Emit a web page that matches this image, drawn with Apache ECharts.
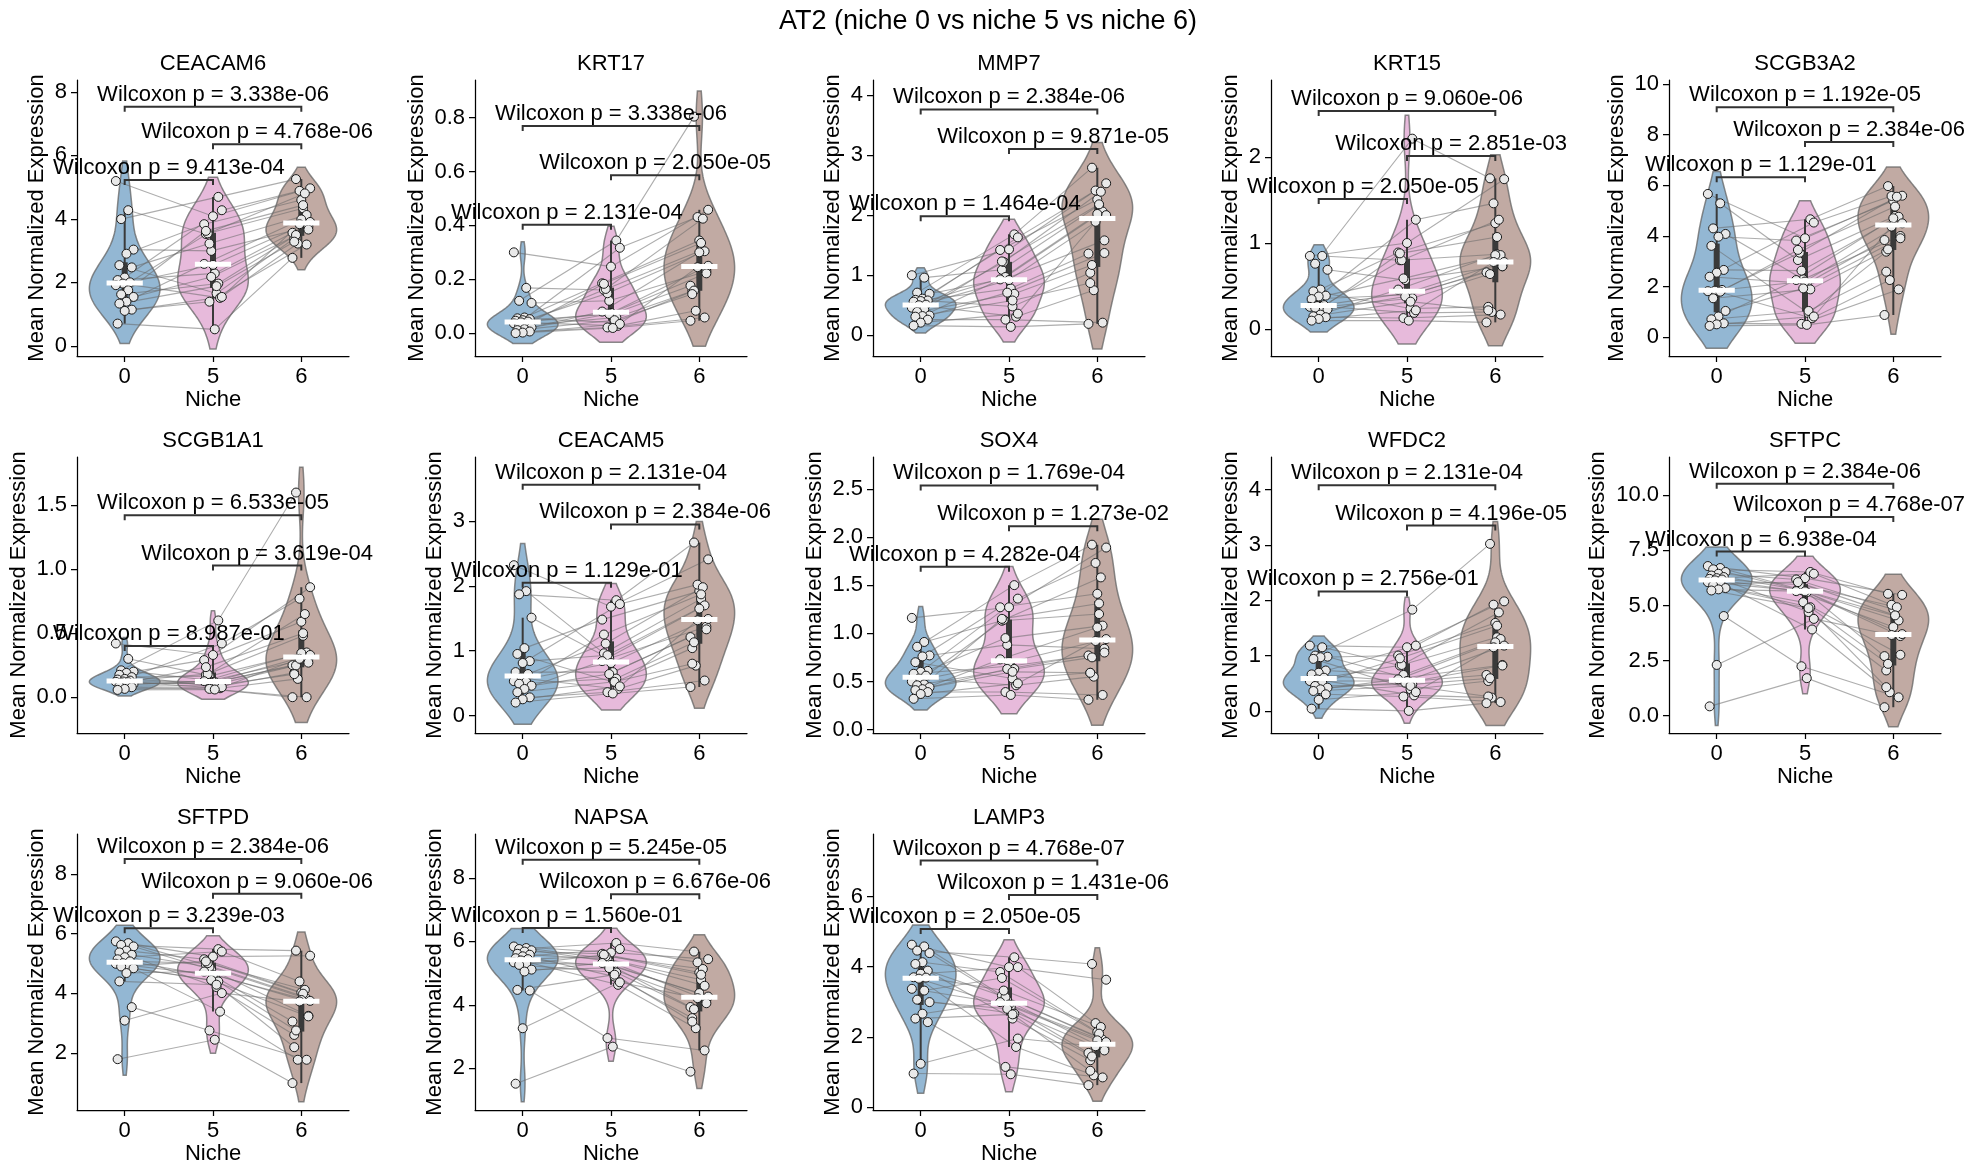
<!DOCTYPE html>
<html>
<head>
<meta charset="utf-8">
<script src="https://cdn.jsdelivr.net/npm/echarts@6/dist/echarts.min.js"></script>
<style>
  html, body { margin: 0; padding: 0; background: #fff; }
  #main { width: 1976px; height: 1175px; }
</style>
</head>
<body>
<div id="main"></div>
<script>
var FONT = '"Liberation Sans", Arial, sans-serif';

// niches on the x axis, genes = one panel each
var niches = ["0", "5", "6"];
var genes = ["CEACAM6", "KRT17", "MMP7", "KRT15", "SCGB3A2", "SCGB1A1", "CEACAM5",
             "SOX4", "WFDC2", "SFTPC", "SFTPD", "NAPSA", "LAMP3"];

// mean normalized expression per sample, [niche 0, niche 5, niche 6], each sorted high -> low
var CEACAM6 = [
  [5.19, 4.27, 3.99, 3.03, 2.9, 2.54, 2.47, 2.15, 2.07, 2.0, 1.96, 1.91, 1.75, 1.62, 1.54, 1.39, 1.33, 1.14, 1.1, 0.7],
  [4.69, 4.27, 4.08, 3.83, 3.62, 3.54, 3.52, 3.22, 2.99, 2.58, 2.55, 2.28, 2.17, 1.96, 1.88, 1.65, 1.54, 1.51, 1.39, 0.52],
  [5.25, 4.96, 4.88, 4.8, 4.59, 4.43, 4.33, 4.12, 3.98, 3.9, 3.83, 3.75, 3.66, 3.56, 3.49, 3.38, 3.28, 3.22, 3.19, 2.77]];
var KRT17 = [
  [0.30, 0.168, 0.12, 0.112, 0.058, 0.055, 0.052, 0.048, 0.046, 0.043, 0.04, 0.036, 0.031, 0.027, 0.021, 0.015, 0.011, 0.006, 0.002, 0.0],
  [0.344, 0.317, 0.247, 0.185, 0.183, 0.164, 0.16, 0.148, 0.12, 0.08, 0.075, 0.071, 0.071, 0.058, 0.048, 0.04, 0.034, 0.027, 0.021, 0.019],
  [0.804, 0.458, 0.431, 0.425, 0.344, 0.335, 0.307, 0.304, 0.30, 0.25, 0.245, 0.23, 0.222, 0.176, 0.158, 0.155, 0.145, 0.083, 0.058, 0.046]];
var MMP7 = [
  [1.0, 0.96, 0.71, 0.69, 0.61, 0.59, 0.58, 0.57, 0.56, 0.51, 0.5, 0.46, 0.43, 0.39, 0.33, 0.32, 0.31, 0.26, 0.21, 0.16],
  [1.68, 1.63, 1.43, 1.42, 1.23, 1.22, 1.09, 0.97, 0.95, 0.93, 0.92, 0.78, 0.71, 0.69, 0.58, 0.48, 0.36, 0.31, 0.26, 0.14],
  [2.79, 2.53, 2.41, 2.39, 2.26, 2.18, 2.17, 2.06, 2.02, 2.0, 1.89, 1.58, 1.37, 1.36, 1.17, 1.04, 0.87, 0.75, 0.21, 0.19]];
var KRT15 = [
  [0.85, 0.85, 0.76, 0.69, 0.46, 0.44, 0.39, 0.38, 0.35, 0.28, 0.27, 0.26, 0.25, 0.25, 0.23, 0.17, 0.15, 0.14, 0.12, 0.10],
  [2.21, 1.27, 1.0, 0.89, 0.88, 0.80, 0.80, 0.59, 0.57, 0.46, 0.42, 0.40, 0.38, 0.36, 0.32, 0.24, 0.22, 0.19, 0.13, 0.10],
  [1.75, 1.74, 1.46, 1.27, 1.23, 1.07, 0.87, 0.86, 0.86, 0.78, 0.78, 0.73, 0.73, 0.66, 0.64, 0.26, 0.22, 0.20, 0.17, 0.08]];
var SCGB3A2 = [
  [5.66, 5.29, 4.3, 4.08, 3.97, 3.61, 2.66, 2.55, 2.39, 1.87, 1.84, 1.82, 1.8, 1.54, 1.04, 0.82, 0.71, 0.55, 0.51, 0.45],
  [4.66, 4.53, 3.91, 3.82, 3.45, 3.34, 3.05, 2.63, 2.29, 2.26, 2.2, 2.13, 1.93, 1.89, 1.04, 0.95, 0.82, 0.75, 0.53, 0.49],
  [5.97, 5.59, 5.58, 5.55, 5.39, 5.16, 4.79, 4.76, 4.70, 4.5, 4.37, 4.0, 3.91, 3.84, 3.47, 3.38, 2.59, 2.26, 1.89, 0.88]];
var SCGB1A1 = [
  [0.42, 0.30, 0.21, 0.20, 0.19, 0.175, 0.157, 0.143, 0.138, 0.13, 0.123, 0.12, 0.117, 0.112, 0.104, 0.097, 0.086, 0.078, 0.065, 0.057],
  [0.60, 0.42, 0.33, 0.29, 0.235, 0.18, 0.175, 0.165, 0.13, 0.125, 0.12, 0.117, 0.112, 0.104, 0.091, 0.08, 0.078, 0.07, 0.065, 0.06],
  [1.60, 0.86, 0.77, 0.65, 0.59, 0.50, 0.48, 0.35, 0.345, 0.33, 0.30, 0.30, 0.27, 0.25, 0.248, 0.19, 0.18, 0.143, 0.0, 0.0]];
var CEACAM5 = [
  [2.32, 1.92, 1.87, 1.51, 1.04, 0.95, 0.84, 0.81, 0.67, 0.64, 0.58, 0.53, 0.52, 0.49, 0.46, 0.41, 0.36, 0.28, 0.25, 0.2],
  [1.78, 1.72, 1.68, 1.48, 1.25, 1.11, 0.96, 0.93, 0.88, 0.84, 0.81, 0.67, 0.64, 0.57, 0.52, 0.51, 0.45, 0.41, 0.36, 0.34],
  [2.67, 2.41, 2.02, 1.98, 1.92, 1.87, 1.8, 1.70, 1.65, 1.49, 1.47, 1.37, 1.33, 1.21, 1.13, 1.04, 0.80, 0.77, 0.54, 0.44]];
var SOX4 = [
  [1.16, 0.91, 0.86, 0.77, 0.76, 0.70, 0.61, 0.60, 0.58, 0.56, 0.53, 0.5, 0.47, 0.46, 0.44, 0.42, 0.41, 0.39, 0.37, 0.32],
  [1.5, 1.36, 1.27, 1.27, 1.15, 1.14, 1.13, 0.95, 0.88, 0.73, 0.70, 0.66, 0.63, 0.63, 0.6, 0.53, 0.48, 0.46, 0.39, 0.36],
  [1.92, 1.89, 1.73, 1.58, 1.41, 1.31, 1.2, 1.08, 1.06, 0.94, 0.92, 0.84, 0.80, 0.77, 0.75, 0.59, 0.59, 0.55, 0.36, 0.31]];
var WFDC2 = [
  [1.18, 1.15, 1.0, 0.98, 0.97, 0.94, 0.73, 0.69, 0.66, 0.6, 0.57, 0.54, 0.51, 0.45, 0.42, 0.39, 0.36, 0.30, 0.2, 0.04],
  [1.83, 1.18, 1.15, 1.0, 0.95, 0.83, 0.82, 0.65, 0.6, 0.57, 0.54, 0.53, 0.51, 0.48, 0.45, 0.39, 0.34, 0.28, 0.26, 0.0],
  [3.02, 1.98, 1.92, 1.78, 1.59, 1.54, 1.33, 1.3, 1.24, 1.18, 1.15, 0.83, 0.82, 0.65, 0.59, 0.54, 0.26, 0.24, 0.16, 0.14]];
var SFTPC = [
  [6.79, 6.7, 6.64, 6.52, 6.44, 6.36, 6.29, 6.24, 6.21, 6.18, 6.14, 6.06, 5.98, 5.91, 5.79, 5.73, 5.68, 4.52, 2.30, 0.42],
  [6.52, 6.44, 6.24, 6.18, 6.06, 5.94, 5.76, 5.7, 5.67, 5.65, 5.64, 5.6, 5.15, 4.92, 4.88, 4.70, 4.39, 3.91, 2.24, 1.70],
  [5.53, 5.48, 5.03, 4.92, 4.82, 4.55, 4.52, 4.32, 4.02, 3.7, 3.66, 3.61, 2.76, 2.70, 2.35, 2.05, 1.29, 1.06, 0.83, 0.38]];
var SFTPD = [
  [5.74, 5.68, 5.62, 5.57, 5.43, 5.37, 5.29, 5.21, 5.14, 5.07, 5.01, 4.99, 4.92, 4.9, 4.84, 4.68, 4.40, 3.54, 3.09, 1.80],
  [5.48, 5.40, 5.23, 5.14, 5.07, 5.01, 4.96, 4.88, 4.79, 4.73, 4.62, 4.56, 4.45, 4.40, 4.29, 4.21, 4.01, 3.39, 2.76, 2.45],
  [5.43, 5.26, 4.40, 4.12, 4.03, 3.99, 3.9, 3.82, 3.78, 3.75, 3.73, 3.25, 3.23, 3.06, 2.76, 2.61, 2.20, 1.78, 1.78, 1.0]];
var NAPSA = [
  [5.84, 5.79, 5.76, 5.72, 5.68, 5.61, 5.58, 5.53, 5.47, 5.44, 5.4, 5.34, 5.29, 5.26, 5.11, 5.05, 4.47, 4.45, 3.26, 1.51],
  [5.95, 5.76, 5.65, 5.61, 5.58, 5.53, 5.47, 5.44, 5.37, 5.32, 5.26, 5.21, 5.16, 5.02, 4.95, 4.89, 4.71, 4.63, 2.95, 2.68],
  [5.68, 5.44, 5.34, 5.13, 5.02, 4.95, 4.79, 4.6, 4.37, 4.26, 4.21, 4.16, 4.05, 3.93, 3.86, 3.58, 3.47, 3.26, 2.56, 1.89]];
var LAMP3 = [
  [4.63, 4.58, 4.46, 4.39, 4.13, 4.08, 3.89, 3.8, 3.70, 3.69, 3.66, 3.37, 3.32, 3.06, 2.99, 2.66, 2.52, 2.42, 1.23, 0.95],
  [4.27, 3.99, 3.99, 3.85, 3.68, 3.32, 3.18, 3.13, 3.04, 2.99, 2.92, 2.85, 2.8, 2.66, 2.64, 2.52, 1.95, 1.71, 1.14, 0.93],
  [4.08, 3.63, 2.39, 2.28, 2.14, 2.09, 1.99, 1.92, 1.9, 1.85, 1.73, 1.66, 1.61, 1.54, 1.44, 1.33, 1.03, 0.9, 0.84, 0.62]];
var geneData = [CEACAM6, KRT17, MMP7, KRT15, SCGB3A2, SCGB1A1, CEACAM5, SOX4, WFDC2, SFTPC, SFTPD, NAPSA, LAMP3];

// which niche-5 / niche-6 entry belongs to the same sample as niche-0 entry i
var pair5 = [2, 6, 0, 8, 3, 15, 7, 1, 11, 5, 17, 10, 4, 13, 12, 9, 14, 18, 16, 19];
var pair6 = [1, 6, 0, 11, 4, 15, 7, 2, 13, 3, 17, 9, 5, 14, 12, 8, 16, 18, 10, 19];

// Wilcoxon tests: [0 vs 5, 5 vs 6, 0 vs 6]
var comparisons = [[0, 1], [1, 2], [0, 2]];
var pvals = [
  ["9.413e-04", "4.768e-06", "3.338e-06"], ["2.131e-04", "2.050e-05", "3.338e-06"],
  ["1.464e-04", "9.871e-05", "2.384e-06"], ["2.050e-05", "2.851e-03", "9.060e-06"],
  ["1.129e-01", "2.384e-06", "1.192e-05"], ["8.987e-01", "3.619e-04", "6.533e-05"],
  ["1.129e-01", "2.384e-06", "2.131e-04"], ["4.282e-04", "1.273e-02", "1.769e-04"],
  ["2.756e-01", "4.196e-05", "2.131e-04"], ["6.938e-04", "4.768e-07", "2.384e-06"],
  ["3.239e-03", "9.060e-06", "2.384e-06"], ["1.560e-01", "6.676e-06", "5.245e-05"],
  ["2.050e-05", "1.431e-06", "4.768e-07"]];
var bracketY = [
  [5.22, 6.35, 7.53], [0.402, 0.586, 0.769], [1.98, 3.1, 3.76], [1.51, 2.01, 2.53],
  [6.32, 7.71, 9.08], [0.40, 1.03, 1.422], [2.05, 2.95, 3.56], [1.69, 2.11, 2.535],
  [2.16, 3.35, 4.08], [7.45, 9.02, 10.53], [6.18, 7.33, 8.49], [6.42, 7.49, 8.58],
  [5.08, 6.05, 7.03]];

// y axes
var yTicks = [
  [0, 2, 4, 6, 8], [0, 0.2, 0.4, 0.6, 0.8], [0, 1, 2, 3, 4], [0, 1, 2], [0, 2, 4, 6, 8, 10],
  [0, 0.5, 1.0, 1.5], [0, 1, 2, 3], [0, 0.5, 1.0, 1.5, 2.0, 2.5], [0, 1, 2, 3, 4],
  [0, 2.5, 5.0, 7.5, 10.0], [2, 4, 6, 8], [2, 4, 6, 8], [0, 2, 4, 6]];
var yRange = [
  [-0.32, 8.37], [-0.085, 0.94], [-0.345, 4.25], [-0.31, 2.89], [-0.74, 10.16],
  [-0.28, 1.878], [-0.27, 3.99], [-0.035, 2.83], [-0.40, 4.59], [-0.79, 11.74],
  [0.10, 9.33], [0.68, 9.39], [-0.09, 7.79]];

var violinFill = ["#93b7d3", "#e7badb", "#c1aaa3"];
var rowTop = [80, 457, 834];

function jit(i, k) { return (((i * 7 + k * 5) % 11) - 5) * 0.02; }

function sampleValue(set, k, i) {
  if (k === 1) return set[1][pair5[i]];
  if (k === 2) return set[2][pair6[i]];
  return set[0][i];
}

function quantile(sorted, q) {
  var pos = (sorted.length - 1) * q, lo = Math.floor(pos), hi = Math.ceil(pos);
  return sorted[lo] + (sorted[hi] - sorted[lo]) * (pos - lo);
}

// gaussian kde (scott bandwidth, cut = 1), scaled so each violin is 0.8 wide
function violinShape(vals) {
  var n = vals.length;
  var mean = vals.reduce(function (a, b) { return a + b; }, 0) / n;
  var sd = Math.sqrt(vals.reduce(function (a, b) { return a + (b - mean) * (b - mean); }, 0) / (n - 1));
  var bw = sd * Math.pow(n, -0.2);
  var lo = Math.min.apply(null, vals) - bw, hi = Math.max.apply(null, vals) + bw;
  var pts = [], mx = 0;
  for (var g = 0; g <= 120; g++) {
    var y = lo + (hi - lo) * g / 120, d = 0;
    vals.forEach(function (v) { var z = (y - v) / bw; d += Math.exp(-0.5 * z * z); });
    pts.push([y, d]);
    mx = Math.max(mx, d);
  }
  return pts.map(function (p) { return [p[0], p[1] / mx * 0.4]; });
}

function boxStats(vals) {
  var s = vals.slice().sort(function (a, b) { return a - b; });
  var q1 = quantile(s, 0.25), q2 = quantile(s, 0.5), q3 = quantile(s, 0.75), iqr = q3 - q1;
  var inside = s.filter(function (v) { return v >= q1 - 1.5 * iqr && v <= q3 + 1.5 * iqr; });
  return { q1: q1, q2: q2, q3: q3, lo: inside[0], hi: inside[inside.length - 1] };
}

function textWidth(str) {
  var w = 0;
  for (var i = 0; i < str.length; i++) w += str[i] === "." ? 6.1 : 12.2;
  return w;
}

var grids = [], xAxes = [], yAxes = [], series = [], graphics = [];

graphics.push({
  type: "text", x: 988, y: 22,
  style: { text: "AT2 (niche 0 vs niche 5 vs niche 6)", font: "27px " + FONT, fill: "#000",
           textAlign: "center", textVerticalAlign: "middle", align: "center", verticalAlign: "middle" }
});

genes.forEach(function (gene, p) {
  var r = Math.floor(p / 5), c = p % 5;
  var left = 77 + 398 * c, top = rowTop[r];
  var set = geneData[p];
  var n = set[0].length;
  var dec = yTicks[p].some(function (t) { return t % 1 !== 0; }) ? 1 : 0;
  var widest = Math.max.apply(null, yTicks[p].map(function (t) { return textWidth(t.toFixed(dec)); }));

  grids.push({ left: left, top: top, width: 272, height: 276 });

  graphics.push({
    type: "text", x: left + 136, y: top - 16,
    style: { text: gene, font: "22px " + FONT, fill: "#000",
             textAlign: "center", textVerticalAlign: "middle", align: "center", verticalAlign: "middle" }
  });

  xAxes.push({
    gridIndex: p, type: "value", min: -0.54, max: 2.54,
    axisLine: { show: true, onZero: false, lineStyle: { color: "#000", width: 1.25 } },
    axisTick: { show: true, length: 6, customValues: [0, 1, 2], lineStyle: { color: "#000", width: 1.25 } },
    axisLabel: { customValues: [0, 1, 2], margin: 10, color: "#000", fontSize: 22, fontFamily: FONT,
                 formatter: function (v) { return niches[Math.round(v)]; } },
    splitLine: { show: false },
    name: "Niche", nameLocation: "middle", nameGap: 33,
    nameTextStyle: { color: "#000", fontSize: 22, fontFamily: FONT }
  });

  yAxes.push({
    gridIndex: p, type: "value", min: yRange[p][0], max: yRange[p][1],
    axisLine: { show: true, onZero: false, lineStyle: { color: "#000", width: 1.25 } },
    axisTick: { show: true, length: 6, customValues: yTicks[p], lineStyle: { color: "#000", width: 1.25 } },
    axisLabel: { customValues: yTicks[p], margin: 10, color: "#000", fontSize: 22, fontFamily: FONT,
                 formatter: function (v) { return v.toFixed(dec); } },
    splitLine: { show: false },
    name: "Mean Normalized Expression", nameLocation: "middle", nameGap: 17 + widest,
    nameTextStyle: { color: "#000", fontSize: 22, fontFamily: FONT }
  });

  var shapes = set.map(violinShape);
  var stats = set.map(boxStats);

  // violins
  series.push({
    type: "custom", xAxisIndex: p, yAxisIndex: p, z: 1,
    data: [[0, stats[0].q2], [1, stats[1].q2], [2, stats[2].q2]],
    renderItem: function (params, api) {
      var k = params.dataIndex, sh = shapes[k];
      var pts = sh.map(function (d) { return api.coord([k - d[1], d[0]]); });
      for (var j = sh.length - 1; j >= 0; j--) pts.push(api.coord([k + sh[j][1], sh[j][0]]));
      return { type: "polygon", shape: { points: pts },
               style: { fill: violinFill[k], stroke: "rgba(100,100,100,0.75)", lineWidth: 1.5 } };
    }
  });

  // paired lines
  var lineData = [];
  for (var i = 0; i < n; i++) lineData.push([0, sampleValue(set, 0, i)]);
  series.push({
    type: "custom", xAxisIndex: p, yAxisIndex: p, z: 2,
    data: lineData,
    renderItem: function (params, api) {
      var i = params.dataIndex;
      var pts = [0, 1, 2].map(function (k) { return api.coord([k + jit(i, k), sampleValue(set, k, i)]); });
      return { type: "polyline", shape: { points: pts },
               style: { stroke: "rgba(105,105,105,0.55)", lineWidth: 1.1, fill: null } };
    }
  });

  // inner box: whisker + thick iqr bar
  series.push({
    type: "custom", xAxisIndex: p, yAxisIndex: p, z: 3,
    data: [[0, stats[0].q2], [1, stats[1].q2], [2, stats[2].q2]],
    renderItem: function (params, api) {
      var k = params.dataIndex, st = stats[k];
      var wHi = api.coord([k, st.hi]), wLo = api.coord([k, st.lo]);
      var bHi = api.coord([k, st.q3]), bLo = api.coord([k, st.q1]);
      return { type: "group", children: [
        { type: "line", shape: { x1: wHi[0], y1: wHi[1], x2: wLo[0], y2: wLo[1] },
          style: { stroke: "#3a3a3a", lineWidth: 2 } },
        { type: "rect", shape: { x: bHi[0] - 3, y: bHi[1], width: 6, height: bLo[1] - bHi[1] },
          style: { fill: "#3a3a3a" } }
      ] };
    }
  });

  // sample points
  [0, 1, 2].forEach(function (k) {
    var pts = [];
    for (var i = 0; i < n; i++) pts.push([k + jit(i, k), sampleValue(set, k, i)]);
    series.push({
      type: "scatter", xAxisIndex: p, yAxisIndex: p, z: 4, symbolSize: 9,
      itemStyle: { color: "#e9e9e9", borderColor: "#1a1a1a", borderWidth: 1, opacity: 1 },
      data: pts
    });
  });

  // median bars
  series.push({
    type: "custom", xAxisIndex: p, yAxisIndex: p, z: 5,
    data: [[0, stats[0].q2], [1, stats[1].q2], [2, stats[2].q2]],
    renderItem: function (params, api) {
      var k = params.dataIndex, m = api.coord([k, stats[k].q2]);
      var w = api.size([0.41, 0])[0];
      return { type: "rect", shape: { x: m[0] - w / 2, y: m[1] - 2.5, width: w, height: 5 },
               style: { fill: "#ffffff" } };
    }
  });

  // significance brackets
  series.push({
    type: "custom", xAxisIndex: p, yAxisIndex: p, z: 6,
    data: comparisons.map(function (cmp, j) { return [cmp[0], bracketY[p][j]]; }),
    renderItem: function (params, api) {
      var j = params.dataIndex, cmp = comparisons[j], h = bracketY[p][j];
      var a = api.coord([cmp[0], h]), b = api.coord([cmp[1], h]);
      return { type: "group", children: [
        { type: "polyline", shape: { points: [[a[0], a[1] + 5], a, b, [b[0], b[1] + 5]] },
          style: { stroke: "#333", lineWidth: 2, fill: null } },
        { type: "text", x: (a[0] + b[0]) / 2, y: a[1] - 12,
          style: { text: "Wilcoxon p = " + pvals[p][j], font: "22px " + FONT, fill: "#000",
                   textAlign: "center", textVerticalAlign: "middle", align: "center", verticalAlign: "middle" } }
      ] };
    }
  });
});

var chart = echarts.init(document.getElementById("main"));
chart.setOption({
  animation: false,
  backgroundColor: "#fff",
  textStyle: { fontFamily: FONT },
  grid: grids,
  xAxis: xAxes,
  yAxis: yAxes,
  graphic: graphics,
  series: series
});
</script>
</body>
</html>
